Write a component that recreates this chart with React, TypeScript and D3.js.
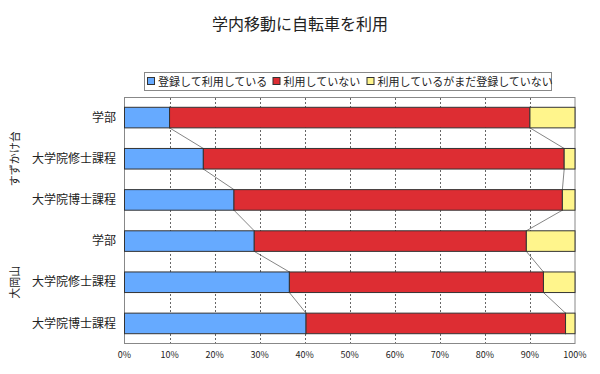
import * as d3 from "d3";

const categories = ["学部", "大学院修士課程", "大学院博士課程", "学部", "大学院修士課程", "大学院博士課程"];
const groups = ["すずかけ台", "大岡山"];
const groupSize = 3;

const seriesNames = ["登録して利用している", "利用していない", "利用しているがまだ登録していない"];
const registered = [10.0, 17.5, 24.3, 28.8, 36.6, 40.3];
const notUsing = [80.0, 80.1, 72.9, 60.4, 56.4, 57.6];
const usingUnregistered = [10.0, 2.4, 2.8, 10.8, 7.0, 2.1];
const colors = ["#66aaff", "#dd2d33", "#fff58c"];

const ticks = d3.range(0, 101, 10);

const W = 600;
const H = 374;
const font = "'Noto Sans CJK JP', 'Noto Sans', sans-serif";

export default function App() {
  const x = d3.scaleLinear().domain([0, 100]).range([124.5, 575]);
  const y = d3
    .scaleBand<number>()
    .domain(d3.range(categories.length))
    .range([97, 344])
    .paddingInner(0.5)
    .paddingOuter(0.25);
  const bw = y.bandwidth();

  const rows = categories.map((c, i) => ({
    name: c,
    values: [registered[i], notUsing[i], usingUnregistered[i]],
  }));
  const stack = d3
    .stack<{ name: string; values: number[] }, number>()
    .keys([0, 1, 2])
    .value((d, k) => d.values[k]);
  const layers = stack(rows);

  const legendX = [147, 272.5, 366.5];

  return (
    <svg
      width={W}
      height={H}
      style={{ position: "absolute", left: 0, top: 0, background: "#fff" }}
      fontFamily={font}
    >
      <text x={300} y={30} textAnchor="middle" fontSize={16} fill="#222">
        学内移動に自転車を利用
      </text>

      {/* legend */}
      <rect x={144.5} y={72.5} width={407} height={18} fill="#fff" stroke="#888" />
      {seriesNames.map((s, i) => (
        <g key={s} transform={`translate(${legendX[i]},0)`}>
          <rect x={0.5} y={77.5} width={7} height={7} fill={colors[i]} stroke="#333" />
          <text x={11} y={85.5} fontSize={11} fill="#222">
            {s}
          </text>
        </g>
      ))}

      {/* plot frame & grid */}
      <rect x={x(0)} y={97.5} width={x(100) - x(0)} height={246} fill="#fff" stroke="#888" />
      {ticks.slice(1, -1).map((t) => (
        <line
          key={t}
          x1={Math.round(x(t)) + 0.5}
          x2={Math.round(x(t)) + 0.5}
          y1={98}
          y2={343}
          stroke="#666"
          strokeDasharray="2,2"
        />
      ))}

      {/* connector lines */}
      {layers.slice(0, 2).map((layer, k) =>
        layer.slice(0, -1).map((d, i) => (
          <line
            key={`c${k}-${i}`}
            x1={x(d[1])}
            y1={(y(i) as number) + bw}
            x2={x(layer[i + 1][1])}
            y2={y(i + 1) as number}
            stroke="#666"
            strokeWidth={0.8}
          />
        ))
      )}

      {/* bars */}
      {layers.map((layer, k) =>
        layer.map((d, i) => (
          <rect
            key={`b${k}-${i}`}
            x={x(d[0])}
            y={y(i)}
            width={x(d[1]) - x(d[0])}
            height={bw}
            fill={colors[k]}
            stroke="#333"
            strokeWidth={1}
          />
        ))
      )}

      {/* category labels */}
      {categories.map((c, i) => (
        <text
          key={`l${i}`}
          x={116}
          y={(y(i) as number) + bw / 2}
          dy="0.35em"
          textAnchor="end"
          fontSize={12}
          fill="#222"
        >
          {c}
        </text>
      ))}

      {/* group labels */}
      {groups.map((g, gi) => {
        const y0 = y(gi * groupSize) as number;
        const y1 = (y(gi * groupSize + groupSize - 1) as number) + bw;
        const cy = (y0 + y1) / 2;
        return (
          <text
            key={g}
            transform={`translate(15,${cy}) rotate(-90)`}
            textAnchor="middle"
            dy="0.35em"
            fontSize={11}
            fill="#222"
          >
            {g}
          </text>
        );
      })}

      {/* x tick labels */}
      {ticks.map((t) => (
        <text key={`t${t}`} x={x(t)} y={358} textAnchor="middle" fontSize={9} fill="#222">
          {t}%
        </text>
      ))}
    </svg>
  );
}
